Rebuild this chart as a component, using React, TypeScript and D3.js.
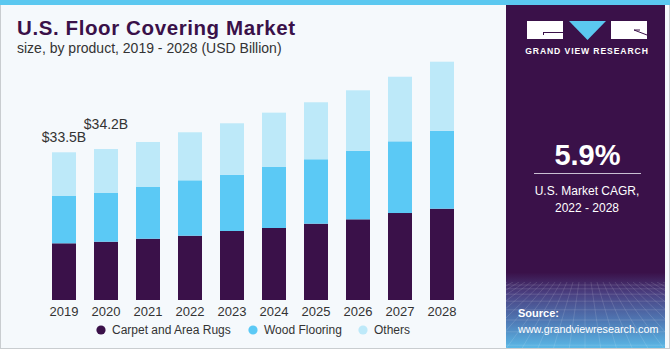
import React, { useEffect } from 'react';
import * as d3 from 'd3';

const years = ['2019', '2020', '2021', '2022', '2023', '2024', '2025', '2026', '2027', '2028'];
const carpet = [12.86, 13.22, 13.9, 14.58, 15.65, 16.33, 17.31, 18.3, 19.73, 20.71];
const wood = [10.73, 11.05, 11.73, 12.57, 12.77, 13.84, 14.61, 15.56, 16.26, 17.69];
const others = [9.91, 9.97, 10.21, 10.89, 11.66, 12.32, 12.93, 13.7, 14.65, 15.65];
const seriesNames = ['Carpet and Area Rugs', 'Wood Flooring', 'Others'];
const seriesKeys = ['carpet', 'wood', 'others'];
const seriesColors = ['#3a1149', '#5bc9f5', '#bde9f9'];
const valueLabels = ['$33.5B', '$34.2B'];

const W = 670;
const H = 350;
const FONT = '"Liberation Sans", Arial, sans-serif';

export default function App() {
  useEffect(() => {
    document.body.style.margin = '0';
  }, []);

  const rows = years.map((y, i) => ({ year: y, carpet: carpet[i], wood: wood[i], others: others[i] }));
  const stacked = d3.stack<any>().keys(seriesKeys)(rows);

  const x = d3
    .scaleBand<string>()
    .domain(years)
    .range([43, 463])
    .paddingInner(18 / 42)
    .paddingOuter(9 / 42);
  const y = d3.scaleLinear().domain([0, 40]).range([300, 300 - 40 * 4.409]);

  const labelOffsets = [10, 20];
  const legendX = [101, 253, 363];

  // decorative grid in the lower part of the panel
  const gridH: number[] = d3.range(0, 9).map((i) => 285 + i * i * 0.8 + i * 3);
  const gridV: number[] = d3.range(-14, 15).map((i) => i);

  return (
    <svg width={W} height={H} style={{ position: 'absolute', left: 0, top: 0, display: 'block' }} fontFamily={FONT}>
      <defs>
        <linearGradient id="panelGrad" x1="0" y1="0" x2="0" y2="1">
          <stop offset="0" stopColor="#3a1149" />
          <stop offset="0.78" stopColor="#3a1149" />
          <stop offset="0.84" stopColor="#4a3f80" />
          <stop offset="0.92" stopColor="#4f78b4" />
          <stop offset="1" stopColor="#5ab8e6" />
        </linearGradient>
        <clipPath id="panelClip">
          <rect x={506} y={282} width={159} height={66} />
        </clipPath>
      </defs>
      <rect x={0.5} y={0.5} width={W - 1} height={H - 2} fill="#f5f9fc" stroke="#c9cdd0" />
      <rect x={0} y={0} width={W} height={5} fill="#5bc8f0" />

      {/* Title */}
      <text x={17} y={35} fontSize={20.5} fontWeight={700} fill="#3a1149" letterSpacing={0.6}>
        U.S. Floor Covering Market
      </text>
      <text x={17} y={53} fontSize={14} fill="#333">
        size, by product, 2019 - 2028 (USD Billion)
      </text>

      {/* Bars */}
      {stacked.map((s, si) => (
        <g key={s.key} fill={seriesColors[si]}>
          {s.map((d, i) => (
            <rect
              key={years[i]}
              x={x(years[i])}
              y={y(d[1])}
              width={x.bandwidth()}
              height={y(d[0]) - y(d[1])}
            />
          ))}
        </g>
      ))}

      {/* Value labels */}
      {valueLabels.map((lab, i) => {
        const total = carpet[i] + wood[i] + others[i];
        return (
          <text
            key={lab}
            x={(x(years[i]) as number) + x.bandwidth() / 2}
            y={y(total) - labelOffsets[i]}
            fontSize={14}
            fill="#333"
            textAnchor="middle"
          >
            {lab}
          </text>
        );
      })}

      {/* X axis labels */}
      {years.map((yr) => (
        <text
          key={yr}
          x={(x(yr) as number) + x.bandwidth() / 2}
          y={316}
          fontSize={13}
          fill="#333"
          textAnchor="middle"
        >
          {yr}
        </text>
      ))}

      {/* Legend */}
      {seriesNames.map((n, i) => (
        <g key={n} transform={`translate(${legendX[i]},330)`}>
          <circle r={4.6} cx={0} cy={0} fill={seriesColors[i]} />
          <text x={11} y={4.3} fontSize={12} fill="#333">
            {n}
          </text>
        </g>
      ))}

      {/* Right panel */}
      <rect x={506} y={5} width={159} height={343} fill="url(#panelGrad)" />
      <g clipPath="url(#panelClip)" stroke="#ffffff" strokeOpacity={0.16} strokeWidth={0.8} fill="none">
        {gridH.map((gy, i) => (
          <line key={'h' + i} x1={506} x2={665} y1={gy} y2={gy} />
        ))}
        {gridV.map((i) => (
          <line key={'v' + i} x1={585 + i * 6} y1={282} x2={585 + i * 16} y2={350} />
        ))}
      </g>

      {/* Logo */}
      <g>
        <rect x={527} y={21} width={36} height={18} fill="#ffffff" />
        <line x1={543} x2={563} y1={32.5} y2={32.5} stroke="#3a1149" strokeWidth={1} />
        <line x1={543.5} x2={543.5} y1={32} y2={35} stroke="#3a1149" strokeWidth={1} />
        <path d="M569,21 L606,21 L587.5,40 Z" fill="#5bc8f0" />
        <rect x={611} y={21} width={36} height={18} fill="#ffffff" />
        <line x1={634} x2={647} y1={30} y2={35} stroke="#3a1149" strokeWidth={1} />
        <line x1={634} x2={640} y1={30} y2={30} stroke="#3a1149" strokeWidth={1} />
        <text x={587} y={54} fontSize={8.6} fontWeight={700} fill="#ffffff" textAnchor="middle" letterSpacing={0.9}>
          GRAND VIEW RESEARCH
        </text>
      </g>

      <text x={587.5} y={165} fontSize={29} fontWeight={700} fill="#ffffff" textAnchor="middle">
        5.9%
      </text>
      <line x1={534} x2={641} y1={173.5} y2={173.5} stroke="#c9bfd2" strokeWidth={1} />
      <text x={587} y={195} fontSize={12} fill="#ffffff" textAnchor="middle">
        U.S. Market CAGR,
      </text>
      <text x={587} y={211.5} fontSize={12} fill="#ffffff" textAnchor="middle">
        2022 - 2028
      </text>

      <text x={518} y={317} fontSize={11} fontWeight={700} fill="#ffffff">
        Source:
      </text>
      <text x={518} y={332.5} fontSize={10.8} fill="#ffffff">
        www.grandviewresearch.com
      </text>
    </svg>
  );
}
